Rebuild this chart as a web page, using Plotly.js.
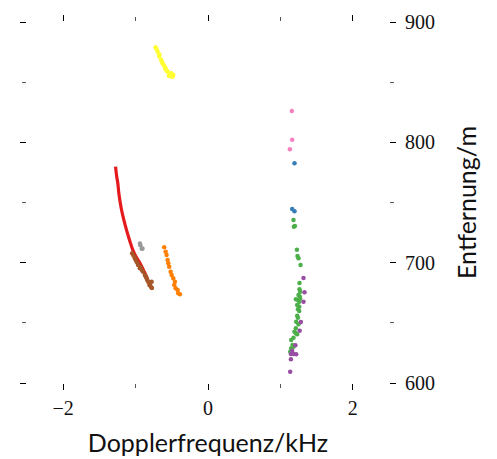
<!DOCTYPE html>
<html>
<head>
<meta charset="utf-8">
<script src="https://cdn.plot.ly/plotly-3.0.1.min.js"></script>
<style>
  html, body { margin: 0; padding: 0; background: #fff; }
  #chart { width: 497px; height: 459px; }
</style>
</head>
<body>
<div id="chart"></div>
<script>
// Range-Doppler detections, one cluster per tracked target (kHz, m)
const redX = [-1.277, -1.262, -1.246, -1.232, -1.215, -1.194, -1.160, -1.125, -1.080, -1.038, -0.990, -0.941, -0.900, -0.872, -0.830];
const redY = [779.8, 772.0, 766.2, 758.0, 751.0, 743.8, 735.0, 727.1, 718.0, 710.5, 704.5, 699.7, 695.0, 691.4, 685.6];

const blueX = [1.195, 1.163, 1.195];
const blueY = [782.6, 744.6, 742.7];

const greenX = [1.181, 1.186, 1.200, 1.228, 1.236, 1.250, 1.278, 1.264, 1.264, 1.273, 1.250, 1.269, 1.214, 1.242, 1.260, 1.273, 1.232, 1.260, 1.242, 1.260, 1.232, 1.242, 1.218, 1.250, 1.214, 1.194, 1.214, 1.232, 1.181, 1.149, 1.167, 1.149, 1.181, 1.135];
const greenY = [735.5, 729.9, 730.5, 710.8, 705.5, 703.6, 698.1, 683.1, 677.9, 675.9, 673.1, 671.7, 669.6, 669.0, 667.6, 670.1, 664.8, 663.4, 661.2, 659.8, 655.9, 654.3, 650.9, 648.8, 645.5, 642.6, 641.3, 640.5, 637.6, 635.7, 631.6, 628.8, 630.2, 626.0];

const purpleX = [1.319, 1.333, 1.319, 1.283, 1.266, 1.207, 1.163, 1.145, 1.186, 1.218, 1.145, 1.135];
const purpleY = [687.3, 675.4, 667.6, 650.7, 643.5, 631.3, 626.8, 624.1, 624.1, 623.9, 619.7, 609.4];

const orangeX = [-0.605, -0.585, -0.572, -0.558, -0.549, -0.536, -0.516, -0.502, -0.480, -0.457, -0.466, -0.447, -0.419, -0.411, -0.388];
const orangeY = [712.8, 709.1, 706.4, 702.2, 699.5, 696.6, 692.5, 689.8, 687.0, 684.2, 681.4, 678.7, 677.3, 674.5, 673.7];

const yellowX = [-0.724, -0.710, -0.696, -0.678, -0.670, -0.651, -0.640, -0.633, -0.620, -0.605, -0.590, -0.585, -0.570, -0.558, -0.540, -0.526, -0.510, -0.502, -0.490, -0.480];
const yellowY = [879.0, 877.5, 875.3, 871.8, 873.0, 869.0, 867.5, 866.2, 865.0, 863.5, 862.0, 860.7, 859.5, 858.7, 855.1, 856.8, 857.5, 855.1, 854.5, 856.2];

const brownX = [-1.048, -1.030, -1.010, -1.000, -0.987, -0.970, -0.965, -0.941, -0.930, -0.910, -0.896, -0.872, -0.860, -0.848, -0.840, -0.826, -0.810, -0.803, -0.795, -0.779, -0.789, -0.775];
const brownY = [707.8, 706.0, 703.6, 702.5, 700.8, 699.0, 698.1, 695.3, 696.5, 693.5, 692.5, 689.8, 688.5, 687.0, 685.5, 684.2, 681.5, 682.9, 683.5, 684.2, 680.0, 678.9];

const pinkX = [1.158, 1.163, 1.131];
const pinkY = [826.0, 802.2, 794.2];

const grayX = [-0.940, -0.935, -0.915, -0.905];
const grayY = [716.0, 714.5, 711.5, 711.8];

const xTickVals = [-2, 0, 2];
const xMinorVals = [-1, 1];
const yTickVals = [600, 700, 800, 900];
const yMinorVals = [650, 750, 850];

function pts(x, y, color) {
  return { type: 'scatter', mode: 'markers', x: x, y: y, hoverinfo: 'skip',
           marker: { color: color, size: 4.5, line: { width: 0 } } };
}

const traces = [
  { type: 'scatter', mode: 'lines', x: redX, y: redY, hoverinfo: 'skip',
    line: { color: '#e41a1c', width: 3.2, shape: 'spline' } },
  pts(blueX, blueY, '#377eb8'),
  pts(greenX, greenY, '#4daf4a'),
  pts(purpleX, purpleY, '#984ea3'),
  pts(orangeX, orangeY, '#ff7f00'),
  pts(yellowX, yellowY, '#ffff33'),
  pts(brownX, brownY, '#a65628'),
  pts(pinkX, pinkY, '#f781bf'),
  pts(grayX, grayY, '#999999')
];

const tickFont = { family: 'Liberation Serif, serif', size: 20, color: '#111' };
const titleFont = { family: 'Lato, sans-serif', size: 25, color: '#111' };

// Ticks straddle the (hidden) axis lines: an outside-tick axis plus an
// inside-tick overlay, both mirrored to the opposite side.
const common = { showline: false, zeroline: false, showgrid: false, fixedrange: true,
                 tickwidth: 1, tickcolor: '#000', ticklen: 6, mirror: 'ticks' };

const layout = {
  width: 497, height: 459,
  margin: { l: 27, r: 108, t: 22, b: 76 },
  paper_bgcolor: '#fff', plot_bgcolor: '#fff',
  showlegend: false,
  xaxis: Object.assign({}, common, {
    range: [-2.5, 2.5], tickmode: 'array', tickvals: xTickVals, ticks: 'outside',
    minor: { tickmode: 'array', tickvals: xMinorVals, ticklen: 4, tickcolor: '#555', ticks: 'outside' },
    tickfont: tickFont, ticklabelstandoff: 1,
    title: { text: 'Dopplerfrequenz/kHz', font: titleFont, standoff: 16 }
  }),
  xaxis2: Object.assign({}, common, {
    overlaying: 'x', anchor: 'y', range: [-2.5, 2.5], tickmode: 'array', tickvals: xTickVals,
    ticks: 'inside', showticklabels: false,
    minor: { tickmode: 'array', tickvals: xMinorVals, ticklen: 4, tickcolor: '#555', ticks: 'inside' }
  }),
  yaxis: Object.assign({}, common, {
    range: [600, 900], side: 'right', tickmode: 'array', tickvals: yTickVals, ticks: 'outside',
    minor: { tickmode: 'array', tickvals: yMinorVals, ticklen: 4, tickcolor: '#555', ticks: 'outside' },
    tickfont: tickFont, ticklabelstandoff: 5,
    title: { text: 'Entfernung/m', font: titleFont, standoff: 24 }
  }),
  yaxis2: Object.assign({}, common, {
    overlaying: 'y', anchor: 'x', side: 'right', range: [600, 900], tickmode: 'array', tickvals: yTickVals,
    ticks: 'inside', showticklabels: false,
    minor: { tickmode: 'array', tickvals: yMinorVals, ticklen: 4, tickcolor: '#555', ticks: 'inside' }
  })
};

Plotly.newPlot('chart', traces, layout, { staticPlot: true, displayModeBar: false });
</script>
</body>
</html>
